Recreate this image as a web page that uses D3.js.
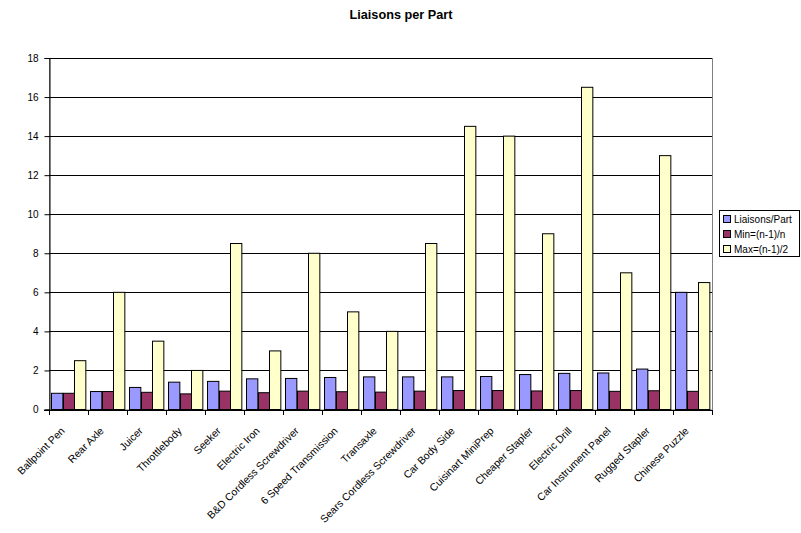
<!DOCTYPE html>
<html lang="en">
<head>
    <meta charset="UTF-8">
    <title>Liaisons per Part</title>
    <script src="https://d3js.org/d3.v7.min.js"></script>
    <style>
        body { margin: 0; background: #fff; overflow: hidden; }
        text { font-family: "Liberation Sans", Arial, sans-serif; }
    </style>
</head>
<body>

<script>
    // products (categories)
    const products = ['Ballpoint Pen', 'Rear Axle', 'Juicer', 'Throttlebody', 'Seeker', 'Electric Iron',
        'B&D Cordless Screwdriver', '6 Speed Transmission', 'Transaxle', 'Sears Cordless Screwdriver',
        'Car Body Side', 'Cuisinart MiniPrep', 'Cheaper Stapler', 'Electric Drill', 'Car Instrument Panel',
        'Rugged Stapler', 'Chinese Puzzle'];

    // series values
    const liaisonsPerPart = [0.83, 0.92, 1.13, 1.4, 1.44, 1.57, 1.59, 1.64, 1.67, 1.67, 1.67, 1.69, 1.79, 1.85, 1.87, 2.07, 6.0];
    const minValues = [0.83, 0.92, 0.88, 0.8, 0.94, 0.86, 0.94, 0.91, 0.89, 0.94, 0.97, 0.97, 0.95, 0.97, 0.93, 0.96, 0.93];
    const maxValues = [2.5, 6, 3.5, 2, 8.5, 3, 8, 5, 4, 8.5, 14.5, 14, 9, 16.5, 7, 13, 6.5];

    const seriesNames = ['Liaisons/Part', 'Min=(n-1)/n', 'Max=(n-1)/2'];
    const seriesColors = ['#9999FF', '#993366', '#FFFFCC'];
    const yTicks = [0, 2, 4, 6, 8, 10, 12, 14, 16, 18];

    const W = 801, H = 533;
    const plot = { left: 49, right: 712, top: 58, bottom: 409.5 };

    const svg = d3.select("body").append("svg")
        .attr("width", W)
        .attr("height", H);

    // title
    svg.append("text")
        .attr("x", 401)
        .attr("y", 19)
        .attr("text-anchor", "middle")
        .attr("font-size", "12.7px")
        .attr("font-weight", "bold")
        .text("Liaisons per Part");

    const x = d3.scaleBand()
        .domain(products)
        .range([plot.left, plot.right])
        .paddingInner(0)
        .paddingOuter(0);

    const xSub = d3.scaleBand()
        .domain(d3.range(3))
        .range([0, x.bandwidth()])
        .paddingInner(0)
        .paddingOuter(0.22);

    const y = d3.scaleLinear()
        .domain([0, 18])
        .range([plot.bottom, plot.top]);

    // plot area border (grey)
    svg.append("rect")
        .attr("x", plot.left + 0.5)
        .attr("y", plot.top + 0.5)
        .attr("width", plot.right - plot.left)
        .attr("height", plot.bottom - plot.top)
        .attr("fill", "none")
        .attr("stroke", "#808080")
        .attr("stroke-width", 1);

    // gridlines
    svg.append("g")
        .selectAll("line")
        .data(yTicks.filter(d => d > 0))
        .enter().append("line")
        .attr("x1", plot.left)
        .attr("x2", plot.right)
        .attr("y1", d => Math.round(y(d)) + 0.5)
        .attr("y2", d => Math.round(y(d)) + 0.5)
        .attr("stroke", "#000")
        .attr("stroke-width", 1);

    // bars
    const series = [liaisonsPerPart, minValues, maxValues];
    series.forEach((vals, s) => {
        svg.append("g")
            .selectAll("rect")
            .data(vals)
            .enter().append("rect")
            .attr("x", (d, i) => Math.round(x(products[i]) + xSub(s)) + 0.5)
            .attr("y", d => y(d))
            .attr("width", xSub.bandwidth())
            .attr("height", d => y(0) - y(d))
            .attr("fill", seriesColors[s])
            .attr("stroke", "#000")
            .attr("stroke-width", 1);
    });

    // y axis
    const yAxis = d3.axisLeft(y)
        .tickValues(yTicks)
        .tickSize(5)
        .tickPadding(6);
    const gy = svg.append("g")
        .attr("transform", `translate(${plot.left + 0.5},0)`)
        .call(yAxis);
    gy.selectAll("text").attr("font-size", "10px").attr("fill", "#000").attr("font-family", "Liberation Sans, Arial, sans-serif");
    gy.select(".domain").attr("stroke", "#000");

    // x axis: ticks at category boundaries
    const gx = svg.append("g");
    gx.append("line")
        .attr("x1", plot.left - 5)
        .attr("x2", plot.right)
        .attr("y1", Math.round(plot.bottom) + 0.5)
        .attr("y2", Math.round(plot.bottom) + 0.5)
        .attr("stroke", "#000");
    gx.selectAll(".tick")
        .data(products.concat(["end"]))
        .enter().append("line")
        .attr("x1", (d, i) => Math.round(i < products.length ? x(d) : plot.right) + 0.5)
        .attr("x2", (d, i) => Math.round(i < products.length ? x(d) : plot.right) + 0.5)
        .attr("y1", Math.round(plot.bottom))
        .attr("y2", Math.round(plot.bottom) + 5)
        .attr("stroke", "#000");

    gx.selectAll("text")
        .data(products)
        .enter().append("text")
        .attr("transform", d => `translate(${x(d) + x.bandwidth() / 2 - 3},${plot.bottom + 22}) rotate(-45)`)
        .attr("text-anchor", "end")
        .attr("font-size", "10.5px")
        .text(d => d);

    // legend
    const lg = svg.append("g").attr("transform", "translate(719,210)");
    lg.append("rect")
        .attr("x", 0.5).attr("y", 0.5)
        .attr("width", 80).attr("height", 46)
        .attr("fill", "#fff")
        .attr("stroke", "#000");
    seriesNames.forEach((name, i) => {
        lg.append("rect")
            .attr("x", 4.5).attr("y", 5.5 + i * 15)
            .attr("width", 7).attr("height", 7)
            .attr("fill", seriesColors[i])
            .attr("stroke", "#000");
        lg.append("text")
            .attr("x", 15).attr("y", 12.5 + i * 15)
            .attr("font-size", "10px")
            .text(name);
    });
</script>

</body>
</html>
